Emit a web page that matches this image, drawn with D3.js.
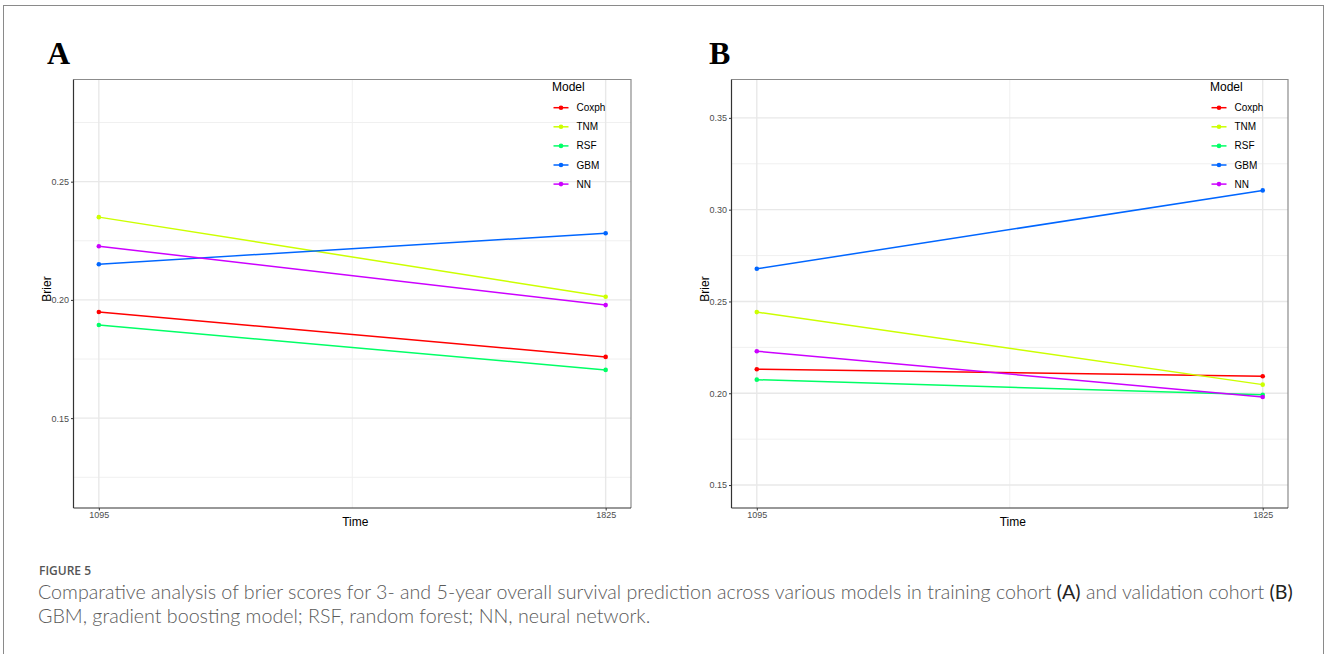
<!DOCTYPE html>
<html>
<head>
<meta charset="utf-8">
<script src="https://cdn.jsdelivr.net/npm/d3@7"></script>
<style>
  body { margin: 0; background: #fff; }
  svg { display: block; }
</style>
</head>
<body>
<svg width="1328" height="654"></svg>
<script>
// Data
const times = [1095, 1825];
const models = ['Coxph', 'TNM', 'RSF', 'GBM', 'NN'];
const colors = ['#FF0000', '#CCFF00', '#00FF66', '#0066FF', '#CC00FF'];
const train_coxph = [0.1949, 0.1759];
const train_tnm = [0.2350, 0.2013];
const train_rsf = [0.1894, 0.1704];
const train_gbm = [0.2151, 0.2282];
const train_nn = [0.2227, 0.1978];
const valid_coxph = [0.2131, 0.2093];
const valid_tnm = [0.2442, 0.2047];
const valid_rsf = [0.2074, 0.1992];
const valid_gbm = [0.2678, 0.3105];
const valid_nn = [0.2229, 0.1980];
const ticks_a = [0.15, 0.20, 0.25];
const minor_a = [0.125, 0.175, 0.225, 0.275];
const ticks_b = [0.15, 0.20, 0.25, 0.30, 0.35];
const minor_b = [0.175, 0.225, 0.275, 0.325];

const svg = d3.select('svg');
const sans = '"Liberation Sans", Arial, sans-serif';

// outer frame
svg.append('rect')
    .attr('x', 3.5).attr('y', 5.5)
    .attr('width', 1320).attr('height', 700)
    .attr('fill', 'none')
    .attr('stroke', '#8a8a8a')
    .attr('stroke-width', 1);

const panels = [
    { letter: 'A', lx: 47, left: 73.5, right: 631, top: 79.5, bottom: 508,
      domain: [0.112, 0.2932], ticks: ticks_a, minor: minor_a, titleX: 47,
      series: [train_coxph, train_tnm, train_rsf, train_gbm, train_nn], legX: 552 },
    { letter: 'B', lx: 709, left: 731.5, right: 1288, top: 79.5, bottom: 508,
      domain: [0.1375, 0.3709], ticks: ticks_b, minor: minor_b, titleX: 705,
      series: [valid_coxph, valid_tnm, valid_rsf, valid_gbm, valid_nn], legX: 1210 }
];

const render = p => {
    const g = svg.append('g');
    const x = d3.scaleLinear()
        .domain([times[0] - 36.5, times[1] + 36.5])
        .range([p.left, p.right]);
    const y = d3.scaleLinear().domain(p.domain).range([p.bottom, p.top]);

    // panel letter
    g.append('text')
        .attr('x', p.lx).attr('y', 64)
        .attr('font-family', '"Liberation Serif", "Times New Roman", serif')
        .attr('font-weight', 'bold')
        .attr('font-size', '32px')
        .text(p.letter);

    // grid
    const grid = g.append('g');
    grid.selectAll('.minor-y').data(p.minor).enter().append('line')
        .attr('x1', p.left).attr('x2', p.right)
        .attr('y1', d => y(d)).attr('y2', d => y(d))
        .attr('stroke', '#f0f0f0').attr('stroke-width', 1);
    grid.append('line')
        .attr('x1', x(d3.mean(times))).attr('x2', x(d3.mean(times)))
        .attr('y1', p.top).attr('y2', p.bottom)
        .attr('stroke', '#f0f0f0').attr('stroke-width', 1);
    grid.selectAll('.major-y').data(p.ticks).enter().append('line')
        .attr('x1', p.left).attr('x2', p.right)
        .attr('y1', d => y(d)).attr('y2', d => y(d))
        .attr('stroke', '#e8e8e8').attr('stroke-width', 1.4);
    grid.selectAll('.major-x').data(times).enter().append('line')
        .attr('x1', d => x(d)).attr('x2', d => x(d))
        .attr('y1', p.top).attr('y2', p.bottom)
        .attr('stroke', '#e8e8e8').attr('stroke-width', 1.4);

    // lines and points
    const line = d3.line().x((d, i) => x(times[i])).y(d => y(d));
    p.series.forEach((s, k) => {
        g.append('path')
            .datum(s)
            .attr('d', line)
            .attr('fill', 'none')
            .attr('stroke', colors[k])
            .attr('stroke-width', 1.5);
        g.selectAll(null).data(s).enter().append('circle')
            .attr('cx', (d, i) => x(times[i]))
            .attr('cy', d => y(d))
            .attr('r', 2.3)
            .attr('fill', colors[k]);
    });

    // panel border
    g.append('path')
        .attr('d', `M${p.left},${p.top}H${p.right}V${p.bottom}`)
        .attr('fill', 'none').attr('stroke', '#8c8c8c').attr('stroke-width', 1.2);

    // axes
    const yAxis = g.append('g')
        .attr('transform', `translate(${p.left},0)`)
        .call(d3.axisLeft(y).tickValues(p.ticks).tickFormat(d3.format('.2f')).tickSize(2.5).tickPadding(2));
    const xAxis = g.append('g')
        .attr('transform', `translate(0,${p.bottom})`)
        .call(d3.axisBottom(x).tickValues(times).tickFormat(d3.format('d')).tickSize(2.5).tickPadding(1.5));
    [yAxis, xAxis].forEach(a => {
        a.select('.domain').attr('stroke', '#333').attr('stroke-width', 1.2);
        a.selectAll('.tick line').attr('stroke', '#333');
        a.selectAll('.tick text')
            .attr('font-family', sans)
            .attr('font-size', '9px')
            .attr('fill', '#4d4d4d');
    });
    yAxis.select('.domain').attr('d', `M0,${p.top}V${p.bottom}`);
    xAxis.select('.domain').attr('d', `M${p.left},0H${p.right}`);

    // axis titles
    g.append('text')
        .attr('x', (p.left + p.right) / 2 + 3).attr('y', 526)
        .attr('text-anchor', 'middle')
        .attr('font-family', sans).attr('font-size', '12px')
        .text('Time');
    g.append('text')
        .attr('transform', `translate(${p.titleX + 4},289) rotate(-90)`)
        .attr('text-anchor', 'middle')
        .attr('font-family', sans).attr('font-size', '12px')
        .text('Brier');

    // legend
    const legend = g.append('g').attr('transform', `translate(${p.legX},0)`);
    legend.append('text')
        .attr('x', 0).attr('y', 91)
        .attr('font-family', sans).attr('font-size', '12px')
        .text('Model');
    models.forEach((m, k) => {
        const cy = 107.7 + k * 19.1;
        legend.append('line')
            .attr('x1', 1.5).attr('x2', 16.5)
            .attr('y1', cy).attr('y2', cy)
            .attr('stroke', colors[k]).attr('stroke-width', 1.5);
        legend.append('circle')
            .attr('cx', 9).attr('cy', cy).attr('r', 2.3)
            .attr('fill', colors[k]);
        legend.append('text')
            .attr('x', 24.5).attr('y', cy + 3.5)
            .attr('font-family', sans).attr('font-size', '10px')
            .text(m);
    });
};

panels.forEach(render);

// Caption
const capFont = 'Lato, "Open Sans", sans-serif';
svg.append('text')
    .attr('x', 39).attr('y', 575)
    .attr('font-family', '"Open Sans", sans-serif')
    .attr('font-weight', 600)
    .attr('font-size', '12px')
    .attr('fill', '#555')
    .text('FIGURE 5');

const line1 = svg.append('text')
    .attr('x', 38).attr('y', 599)
    .attr('font-family', capFont)
    .attr('font-weight', 300)
    .attr('font-size', '16px')
    .attr('fill', '#5a5a5a');
line1.append('tspan').text('Comparative analysis of brier scores for 3- and 5-year overall survival prediction across various models in training cohort ');
line1.append('tspan').attr('font-weight', 400).attr('fill', '#222').text('(A)');
line1.append('tspan').text(' and validation cohort ');
line1.append('tspan').attr('font-weight', 400).attr('fill', '#222').text('(B)');

const line2 = svg.append('text')
    .attr('x', 38).attr('y', 623)
    .attr('font-family', capFont)
    .attr('font-weight', 300)
    .attr('font-size', '16px')
    .attr('fill', '#5a5a5a')
    .text('GBM, gradient boosting model; RSF, random forest; NN, neural network.');

// fit caption to the reference width
const w1 = line1.node().getComputedTextLength();
const fs = 16 * 1255 / w1;
line1.attr('font-size', fs + 'px');
line2.attr('font-size', fs + 'px');
</script>
</body>
</html>
